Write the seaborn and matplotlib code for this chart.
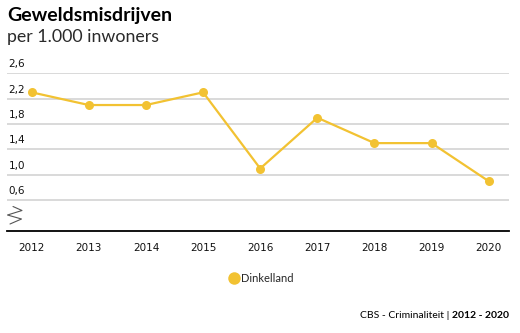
import matplotlib
matplotlib.use("Agg")
import matplotlib.pyplot as plt
import seaborn as sns
import pandas as pd
from matplotlib.lines import Line2D

years = [2012, 2013, 2014, 2015, 2016, 2017, 2018, 2019, 2020]
values = [2.3, 2.1, 2.1, 2.3, 1.1, 1.9, 1.5, 1.5, 0.9]
region = "Dinkelland"
y_ticks = [0.6, 1.0, 1.4, 1.8, 2.2, 2.6]
y_labels = ["0,6", "1,0", "1,4", "1,8", "2,2", "2,6"]

title = "Geweldsmisdrijven"
subtitle = "per 1.000 inwoners"
source = "CBS - Criminaliteit | "
period = "2012 - 2020"

color = "#F2C232"

sns.set_theme(style="white")
plt.rcParams["font.family"] = ["Lato", "DejaVu Sans"]

df = pd.DataFrame({"jaar": years, "waarde": values, "regio": region})

W, H = 520, 333
fig = plt.figure(figsize=(W / 100, H / 100), dpi=100)
ax = fig.add_axes([7.3 / W, 1 - 230.7 / H, (509 - 7.3) / W, (230.7 - 73.3) / H])

sns.lineplot(data=df, x="jaar", y="waarde", color=color, marker="o",
             markersize=6.5, markeredgewidth=0, linewidth=1.6, ax=ax,
             legend=False, zorder=3)

ax.set_xlim(2011.573, 2020.355)
ax.set_ylim(0.12, 2.6)
ax.set_xticks(years)
ax.set_xticklabels([str(y) for y in years], fontsize=7.5,
                   family=["DejaVu Sans"])
ax.tick_params(axis="x", length=0, pad=9, colors="#111111")
ax.set_yticks([])
ax.set_xlabel("")
ax.set_ylabel("")

for t in y_ticks:
    ax.axhline(t, color="#cfcfcf", linewidth=1.1, zorder=1)
for t, lab in zip(y_ticks, y_labels):
    ax.annotate(lab, xy=(0, t), xycoords=("axes fraction", "data"),
                xytext=(1, 3), textcoords="offset points",
                fontsize=7.5, ha="left", va="bottom", color="#111111",
                family=["DejaVu Sans"])

for s in ["top", "right", "left"]:
    ax.spines[s].set_visible(False)
ax.spines["bottom"].set_color("#000000")
ax.spines["bottom"].set_linewidth(1.3)

# axis break mark
zx = [13, 22, 7.5, 21.5, 10]
zy = [206.5, 210.5, 215, 219, 224]
fig.add_artist(Line2D([x / W for x in zx], [1 - y / H for y in zy],
                      color="#555555", linewidth=0.8))

fig.text(7 / W, 1 - 15 / H, title, fontsize=14, fontweight="bold",
         ha="left", va="center", color="#000000")
fig.text(7 / W, 1 - 37 / H, subtitle, fontsize=12.8, fontweight="normal",
         ha="left", va="center", color="#2a2a2a")

handle = Line2D([], [], color=color, marker="o", linestyle="none",
                markersize=9, markeredgewidth=0)
fig.legend([handle], [region], loc="center", bbox_to_anchor=(0.502, 1 - 278 / H),
           frameon=False, fontsize=8, handletextpad=0.1, borderpad=0,
           handlelength=1.0)

# source line: bold period right-aligned, plain source text before it
fig.canvas.draw()
r = fig.canvas.get_renderer()
tp = fig.text(509 / W, 1 - 315 / H, period, fontsize=7.5, fontweight="bold",
              ha="right", va="center", color="#000000")
bb = tp.get_window_extent(renderer=r)
fig.text(bb.x0 / W, 1 - 315 / H, source, fontsize=7.5, ha="right",
         va="center", color="#000000")

fig.savefig("out.png", dpi=100)
